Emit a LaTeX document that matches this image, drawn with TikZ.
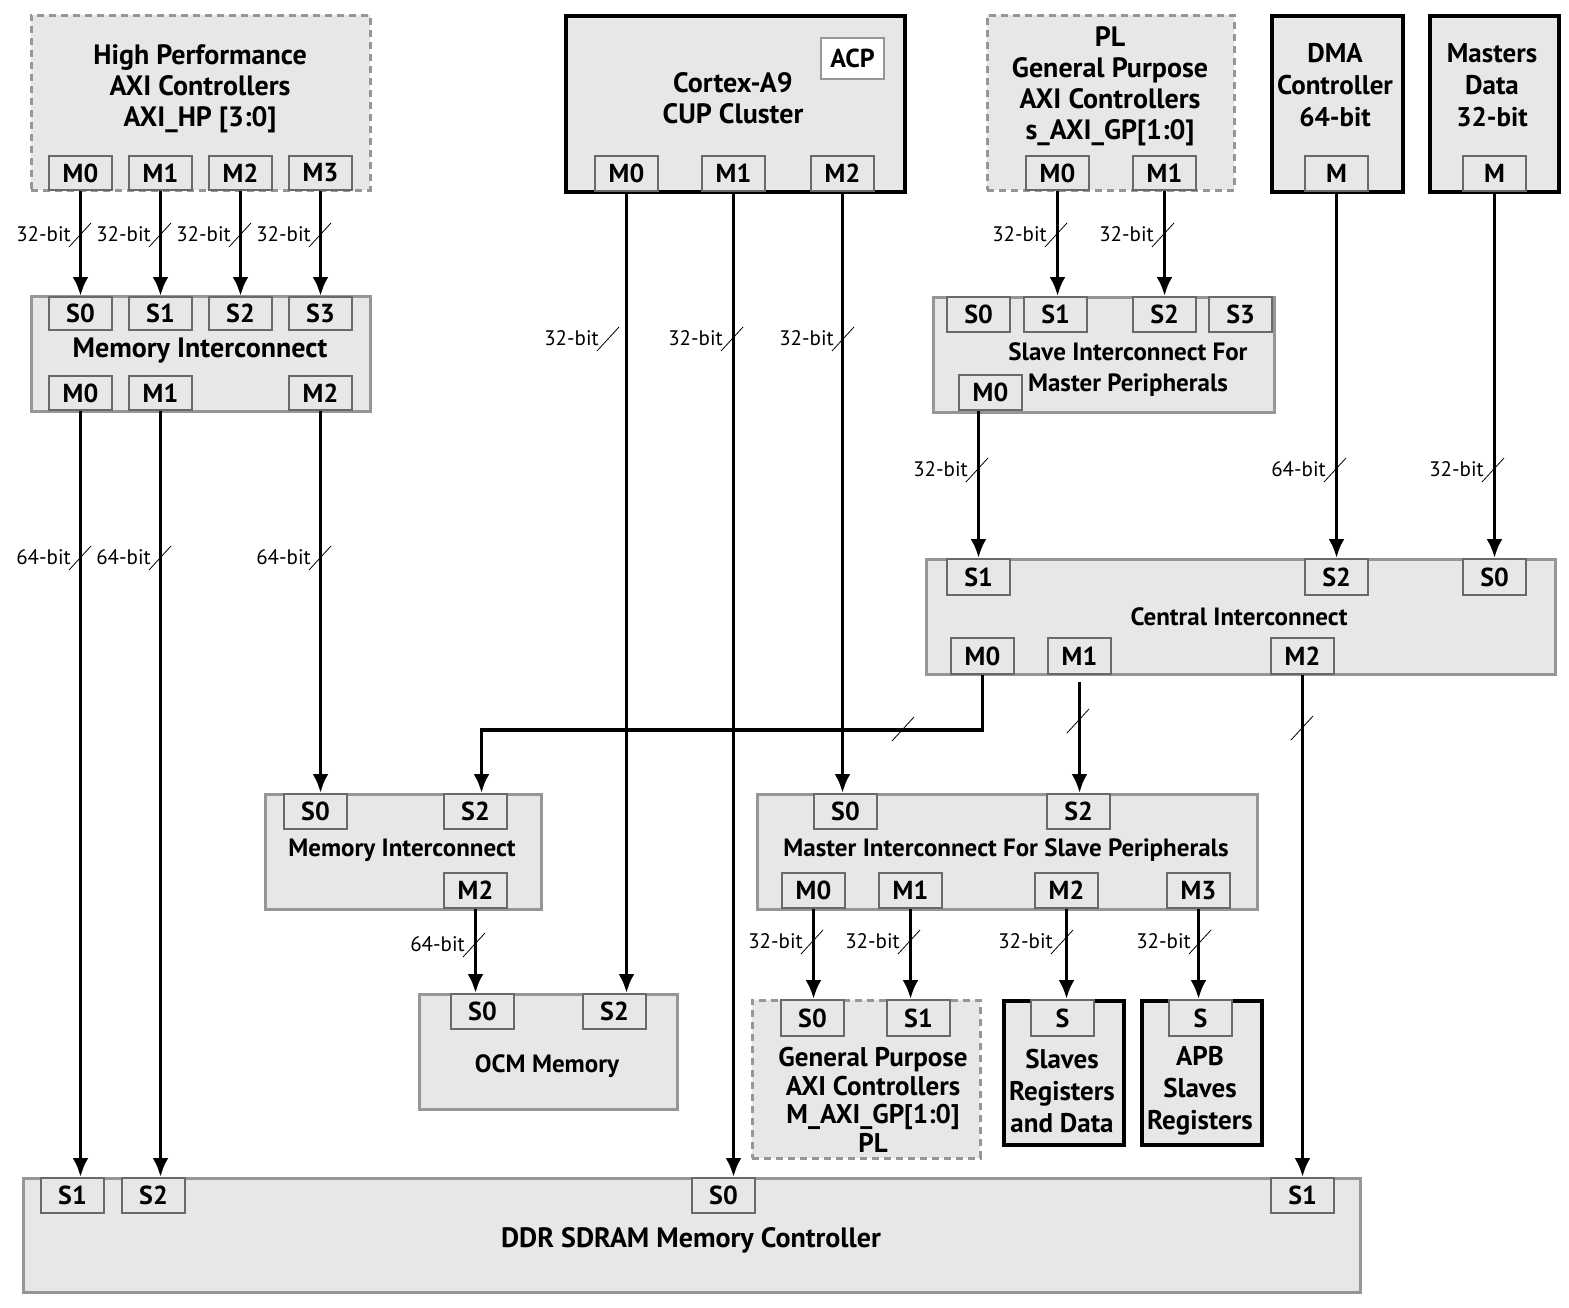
\documentclass[tikz,border=0pt]{standalone}
\usepackage{fontspec}
\setmainfont{PT Sans}
\usetikzlibrary{arrows.meta}
\definecolor{boxfill}{RGB}{230,231,232}
\definecolor{edgegray}{RGB}{150,150,150}
\definecolor{portgray}{RGB}{105,105,105}
\newcommand{\pfont}{\fontsize{26}{28}\selectfont\bfseries}
\newcommand{\tfont}{\fontsize{28}{31}\selectfont\bfseries}
\newcommand{\ifont}{\fontsize{25}{31}\selectfont\bfseries}
\newcommand{\buswidth}[4]{%
  \draw[line width=0.8pt] (#2-11,#3+13) -- (#2+11,#3-11);
  \node[bitlbl] (#1) at (#2-9,#3) {#4};}
\begin{document}
\begin{tikzpicture}[x=1pt,y=-1pt,
    unit/.style={draw=edgegray, fill=boxfill, line width=3pt, anchor=north west, inner sep=0pt},
    hard/.style={unit, draw=black, line width=3.5pt},
    soft/.style={unit, line width=2.5pt, dash pattern=on 7pt off 5pt},
    port/.style={draw=portgray, fill=boxfill, line width=2pt, anchor=north west, inner sep=0pt,
      minimum width=\pw, minimum height=\ph, font=\pfont},
    ttl/.style={align=center, font=\tfont},
    bitlbl/.style={anchor=east, inner sep=0pt, font=\fontsize{21}{24}\selectfont},
    bus/.style={line width=3.7pt, -{Latex[length=19pt,width=16pt]}}]
  \pgfmathsetmacro{\pw}{63}
  \pgfmathsetmacro{\ph}{34}
  \useasboundingbox (0,0) rectangle (1569,1307);

  % masters on top
  \node[soft, minimum width=339, minimum height=175] (hp) at (30,14) {};
  \node[ttl] (hpT) at (200,89) {High Performance\\AXI Controllers\\AXI\_HP [3:0]};
  \node[port] (hpM0) at (48,155) {M0};
  \node[port] (hpM1) at (128,155) {M1};
  \node[port] (hpM2) at (208,155) {M2};
  \node[port] (hpM3) at (288,155) {M3};

  \node[hard, minimum width=339, minimum height=176] (cpu) at (564,14) {};
  \node[ttl] (cpuT) at (733,98) {Cortex-A9\\CUP Cluster};
  \node[port, draw=edgegray, fill=white, minimum height=41] (acp) at (820,37) {ACP};
  \node[port, minimum height=35] (cpuM0) at (594,155) {M0};
  \node[port, minimum height=35] (cpuM1) at (701,155) {M1};
  \node[port, minimum height=35] (cpuM2) at (810,155) {M2};

  \node[soft, minimum width=247, minimum height=175] (plgp) at (986,14) {};
  \node[ttl] (plgpT) at (1110,86) {PL\\General Purpose\\AXI Controllers\\s\_AXI\_GP[1:0]};
  \node[port] (plgpM0) at (1025,155) {M0};
  \node[port] (plgpM1) at (1132,155) {M1};

  \node[hard, minimum width=131, minimum height=176] (dma) at (1270,14) {};
  \node[ttl, font=\fontsize{27}{32}\selectfont\bfseries] (dmaT) at (1335,85) {DMA\\Controller\\64-bit};
  \node[port, minimum height=35] (dmaM) at (1304,155) {M};

  \node[hard, minimum width=129, minimum height=176] (mst) at (1428,14) {};
  \node[ttl, font=\fontsize{27}{32}\selectfont\bfseries] (mstT) at (1492,85) {Masters\\Data\\32-bit};
  \node[port, minimum height=35] (mstM) at (1462,155) {M};

  % interconnects
  \node[unit, minimum width=339, minimum height=115] (mi) at (30,295) {};
  \node[ttl] (miT) at (200,351) {Memory Interconnect};
  \node[port, minimum height=33] (miS0) at (48,296) {S0};
  \node[port, minimum height=33] (miS1) at (128,296) {S1};
  \node[port, minimum height=33] (miS2) at (208,296) {S2};
  \node[port, minimum height=33] (miS3) at (288,296) {S3};
  \node[port] (miM0) at (48,375) {M0};
  \node[port] (miM1) at (128,375) {M1};
  \node[port] (miM2) at (288,375) {M2};

  \node[unit, minimum width=341, minimum height=115] (si) at (932,296) {};
  \node[ttl, font=\ifont] (siT) at (1128,370) {Slave Interconnect For\\Master Peripherals};
  \node[port, minimum height=35] (siS0) at (946,296) {S0};
  \node[port, minimum height=35] (siS1) at (1023,296) {S1};
  \node[port, minimum height=35] (siS2) at (1132,296) {S2};
  \node[port, minimum height=35] (siS3) at (1208,296) {S3};
  \node[port, minimum height=35] (siM0) at (958,374) {M0};

  \node[unit, minimum width=629, minimum height=115] (ci) at (925,558) {};
  \node[ttl, font=\ifont] (ciT) at (1239,617) {Central Interconnect};
  \node[port, minimum height=36] (ciS1) at (946,558) {S1};
  \node[port, minimum height=36] (ciS2) at (1304,558) {S2};
  \node[port, minimum height=36] (ciS0) at (1462,558) {S0};
  \node[port, minimum height=36] (ciM0) at (950,637) {M0};
  \node[port, minimum height=36] (ciM1) at (1047,637) {M1};
  \node[port, minimum height=36] (ciM2) at (1270,637) {M2};

  \node[unit, minimum width=276, minimum height=115] (mi2) at (264,793) {};
  \node[ttl, font=\ifont] (mi2T) at (402,850) {Memory Interconnect};
  \node[port, minimum height=35] (mi2S0) at (283,793) {S0};
  \node[port, minimum height=35] (mi2S2) at (443,793) {S2};
  \node[port, minimum height=35] (mi2M2) at (443,872) {M2};

  \node[unit, minimum width=500, minimum height=115] (ms) at (756,793) {};
  \node[ttl, font=\ifont] (msT) at (1006,850) {Master Interconnect For Slave Peripherals};
  \node[port, minimum height=35] (msS0) at (813,793) {S0};
  \node[port, minimum height=35] (msS2) at (1046,793) {S2};
  \node[port, minimum height=35] (msM0) at (781,872) {M0};
  \node[port, minimum height=35] (msM1) at (878,872) {M1};
  \node[port, minimum height=35] (msM2) at (1034,872) {M2};
  \node[port, minimum height=35] (msM3) at (1166,872) {M3};

  % slaves
  \node[unit, minimum width=258, minimum height=115] (ocm) at (418,993) {};
  \node[ttl, font=\ifont] (ocmT) at (547,1066) {OCM Memory};
  \node[port, minimum height=35] (ocmS0) at (450,993) {S0};
  \node[port, minimum height=35] (ocmS2) at (582,993) {S2};

  \node[soft, minimum width=228, minimum height=158] (gp) at (751,999) {};
  \node[ttl, font=\fontsize{27}{28.5}\selectfont\bfseries] (gpT) at (873,1100) {General Purpose\\AXI Controllers\\M\_AXI\_GP[1:0]\\PL};
  \node[port, minimum height=36] (gpS0) at (780,999) {S0};
  \node[port, minimum height=36] (gpS1) at (886,999) {S1};

  \node[hard, minimum width=120, minimum height=144] (sl) at (1002,999) {};
  \node[ttl, font=\fontsize{27}{32}\selectfont\bfseries] (slT) at (1062,1091) {Slaves\\Registers\\and Data};
  \node[port, minimum height=36] (slS) at (1030,999) {S};

  \node[hard, minimum width=120, minimum height=144] (apb) at (1140,999) {};
  \node[ttl, font=\fontsize{27}{32}\selectfont\bfseries] (apbT) at (1200,1091) {APB\\Slaves\\Registers};
  \node[port, minimum height=36] (apbS) at (1168,999) {S};

  \node[unit, minimum width=1337, minimum height=114] (ddr) at (22,1177) {};
  \node[ttl] (ddrT) at (691,1240) {DDR SDRAM Memory Controller};
  \node[port, minimum height=35] (ddrS1) at (40,1177) {S1};
  \node[port, minimum height=35] (ddrS2) at (121,1177) {S2};
  \node[port, minimum height=35] (ddrS0) at (691,1177) {S0};
  \node[port, minimum height=35] (ddrS1b) at (1270,1177) {S1};

  % buses
  \draw[bus] (hpM0.south) -- (hpM0.south |- miS0.north);
  \draw[bus] (hpM1.south) -- (hpM1.south |- miS1.north);
  \draw[bus] (hpM2.south) -- (hpM2.south |- miS2.north);
  \draw[bus] (hpM3.south) -- (hpM3.south |- miS3.north);
  \draw[bus] (miM0.south) -- (miM0.south |- ddrS1.north);
  \draw[bus] (miM1.south) -- (miM1.south |- ddrS2.north);
  \draw[bus] (miM2.south) -- (miM2.south |- mi2S0.north);
  \draw[bus] (cpuM0.south) -- (cpuM0.south |- ocmS2.north);
  \draw[bus] (cpuM1.south) -- (cpuM1.south |- ddrS0.north);
  \draw[bus] (cpuM2.south) -- (cpuM2.south |- msS0.north);
  \draw[bus] (plgpM0.south) -- (plgpM0.south |- siS1.north);
  \draw[bus] (plgpM1.south) -- (plgpM1.south |- siS2.north);
  \draw[bus] (ciS1.north |- siM0.south) -- (ciS1.north);
  \draw[bus] (dmaM.south) -- (dmaM.south |- ciS2.north);
  \draw[bus] (mstM.south) -- (mstM.south |- ciS0.north);
  \draw[bus] (ciM0.south) -- ++(0,55) -| ([xshift=6pt]mi2S2.north);
  \draw[bus, shorten <=7pt] (ciM1.south) -- (ciM1.south |- msS2.north);
  \draw[bus] (ciM2.south) -- (ciM2.south |- ddrS1b.north);
  \draw[bus] (mi2M2.south) -- (mi2M2.south |- ocmS0.north);
  \draw[bus] (msM0.south) -- (msM0.south |- gpS0.north);
  \draw[bus] (msM1.south) -- (msM1.south |- gpS1.north);
  \draw[bus] (msM2.south) -- (msM2.south |- slS.north);
  \draw[bus] (msM3.south) -- (msM3.south |- apbS.north);

  % bus widths
  \buswidth{w1}{80}{234}{32-bit}
  \buswidth{w2}{160}{234}{32-bit}
  \buswidth{w3}{240}{234}{32-bit}
  \buswidth{w4}{320}{234}{32-bit}
  \buswidth{w5}{80}{557}{64-bit}
  \buswidth{w6}{160}{557}{64-bit}
  \buswidth{w7}{320}{557}{64-bit}
  \buswidth{w8}{608}{338}{32-bit}
  \buswidth{w9}{732}{338}{32-bit}
  \buswidth{w10}{843}{338}{32-bit}
  \buswidth{w11}{1056}{234}{32-bit}
  \buswidth{w12}{1163}{234}{32-bit}
  \buswidth{w13}{977}{469}{32-bit}
  \buswidth{w14}{1335}{469}{64-bit}
  \buswidth{w15}{1493}{469}{32-bit}
  \buswidth{w16}{474}{944}{64-bit}
  \buswidth{w17}{812}{941}{32-bit}
  \buswidth{w18}{909}{941}{32-bit}
  \buswidth{w19}{1062}{941}{32-bit}
  \buswidth{w20}{1200}{941}{32-bit}
  \draw[line width=0.8pt] (903-11,728+13) -- (903+11,728-11);
  \draw[line width=0.8pt] (1078-11,720+13) -- (1078+11,720-11);
  \draw[line width=0.8pt] (1302-11,727+13) -- (1302+11,727-11);
\end{tikzpicture}
\end{document}
